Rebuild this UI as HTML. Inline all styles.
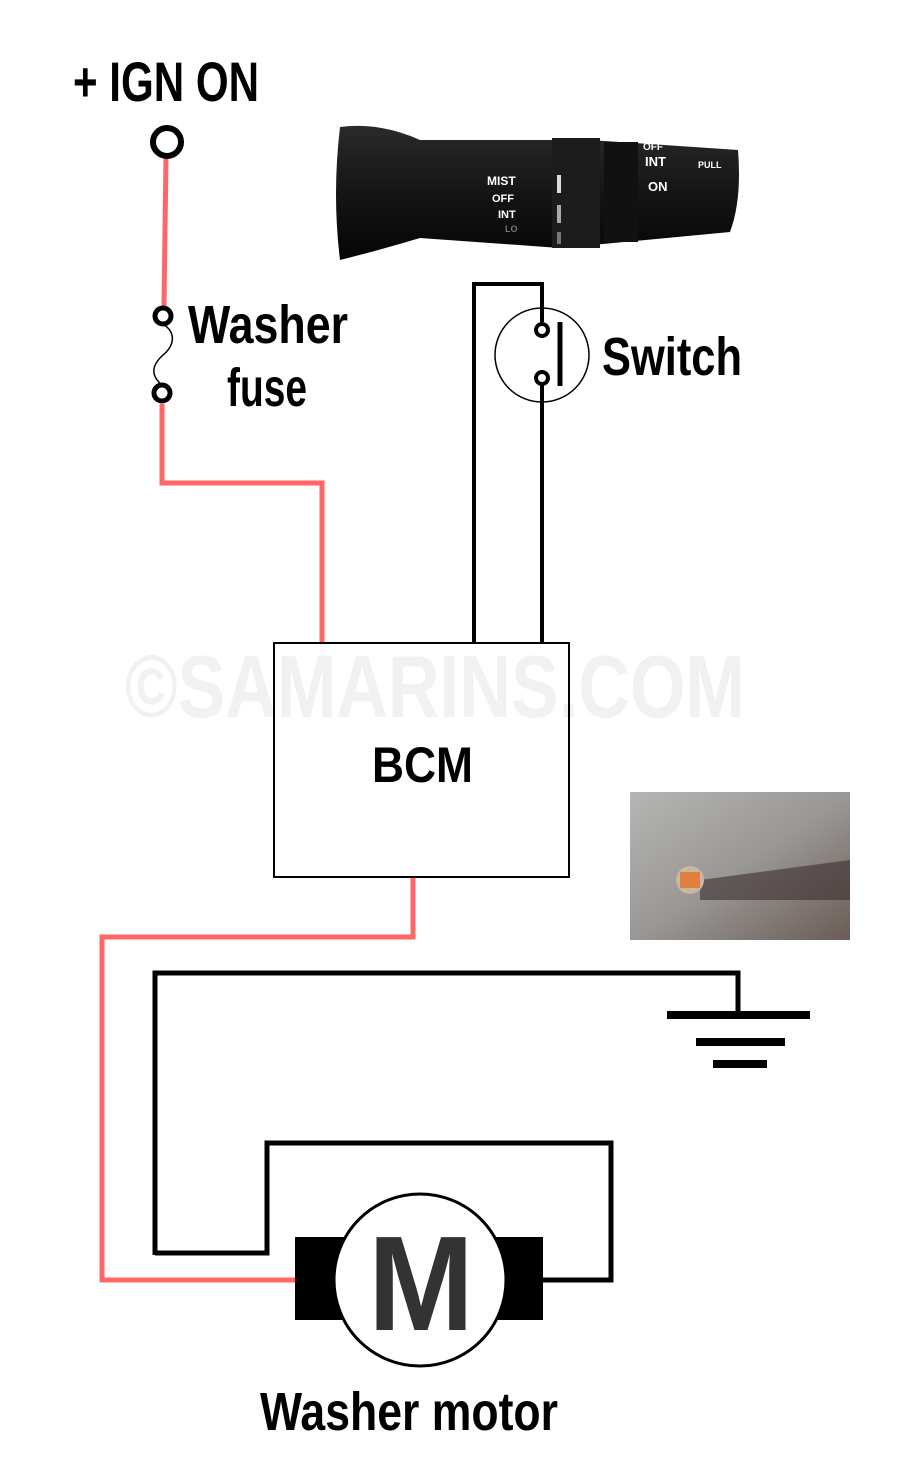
<!DOCTYPE html>
<html><head><style>
html,body{margin:0;padding:0;background:#fff;}
svg{display:block;}
text{font-family:"Liberation Sans",sans-serif;font-weight:bold;}
</style></head><body>
<svg width="900" height="1458" viewBox="0 0 900 1458" xmlns="http://www.w3.org/2000/svg">
<rect width="900" height="1458" fill="#fff"/>
<text x="125" y="717" font-size="88" fill="#f1f1f1" textLength="620" lengthAdjust="spacingAndGlyphs">©SAMARINS.COM</text>
<text x="73" y="101" font-size="56" fill="#000" textLength="186" lengthAdjust="spacingAndGlyphs">+ IGN ON</text>
<text x="188" y="343" font-size="54" fill="#000" textLength="160" lengthAdjust="spacingAndGlyphs">Washer</text>
<text x="227" y="406" font-size="54" fill="#000" textLength="80" lengthAdjust="spacingAndGlyphs">fuse</text>
<text x="602" y="375" font-size="54" fill="#000" textLength="140" lengthAdjust="spacingAndGlyphs">Switch</text>
<text x="372" y="782" font-size="50" fill="#000" textLength="101" lengthAdjust="spacingAndGlyphs">BCM</text>
<text x="260" y="1430" font-size="54" fill="#000" textLength="298" lengthAdjust="spacingAndGlyphs">Washer motor</text>
<g fill="none" stroke="#f66" stroke-width="5">
<path d="M166 156 L164 306"/>
<path d="M162 404 L162 483 L322 483 L322 643"/>
<path d="M413 877 L413 937 L102 937 L102 1280 L296 1280"/>
</g>
<circle cx="167" cy="142" r="14" fill="#fff" stroke="#000" stroke-width="6"/>
<circle cx="163" cy="316" r="8" fill="#fff" stroke="#000" stroke-width="5"/>
<circle cx="162" cy="393" r="8" fill="#fff" stroke="#000" stroke-width="5"/>
<path d="M163 324 C180 335 170 350 163 355 C152 365 150 375 162 385" fill="none" stroke="#000" stroke-width="1.5"/>
<g fill="none" stroke="#000" stroke-width="4">
<path d="M474 643 L474 284 L542 284 L542 322"/>
<path d="M542 384 L542 643"/>
</g>
<circle cx="542" cy="355" r="47" fill="none" stroke="#000" stroke-width="1.5"/>
<circle cx="542" cy="330" r="6" fill="#fff" stroke="#000" stroke-width="4"/>
<circle cx="542" cy="378" r="6" fill="#fff" stroke="#000" stroke-width="4"/>
<line x1="560" y1="322" x2="560" y2="386" stroke="#000" stroke-width="5"/>
<rect x="274" y="643" width="295" height="234" fill="none" stroke="#000" stroke-width="2"/>
<g fill="none" stroke="#000" stroke-width="5">
<path d="M155 1255 L155 973 L738 973 L738 1012"/>
<path d="M155 1253 L267 1253 L267 1143 L611 1143 L611 1280 L543 1280"/>
</g>
<rect x="667" y="1011" width="143" height="8" fill="#000"/>
<rect x="696" y="1038" width="89" height="8" fill="#000"/>
<rect x="713" y="1060" width="54" height="8" fill="#000"/>
<rect x="295" y="1237" width="50" height="83" fill="#000"/>
<rect x="495" y="1237" width="48" height="83" fill="#000"/>
<circle cx="420" cy="1280" r="86" fill="#fff" stroke="#000" stroke-width="3"/>
<text x="368" y="1330" font-size="135" fill="#333" textLength="106" lengthAdjust="spacingAndGlyphs">M</text>
<defs>
<linearGradient id="ph" x1="0" y1="0" x2="1" y2="1">
<stop offset="0" stop-color="#b5b5b3"/><stop offset="0.5" stop-color="#9a9896"/><stop offset="1" stop-color="#6a5c56"/>
</linearGradient>
<linearGradient id="st" x1="0" y1="0" x2="0" y2="1">
<stop offset="0" stop-color="#2a2a2a"/><stop offset="0.5" stop-color="#151515"/><stop offset="1" stop-color="#050505"/>
</linearGradient>
</defs>
<rect x="630" y="792" width="220" height="148" fill="url(#ph)"/>
<path d="M700 880 L850 860 L850 900 L700 900 Z" fill="#3a2e2e" opacity="0.6"/>
<circle cx="690" cy="880" r="14" fill="#c8b8a0"/>
<rect x="680" y="872" width="20" height="16" fill="#e08040"/>
<path d="M340 127 Q380 122 420 140 L560 140 L560 138 L738 150 Q742 200 730 232 L560 248 L420 238 Q380 250 340 260 Q332 195 340 127 Z" fill="url(#st)"/>
<rect x="552" y="138" width="48" height="110" fill="#1c1c1c"/>
<rect x="604" y="142" width="34" height="100" fill="#111"/>
<g fill="#fff" font-size="12">
<text x="487" y="185">MIST</text>
<text x="492" y="202" font-size="11">OFF</text>
<text x="498" y="218" font-size="11">INT</text>
<text x="505" y="232" font-size="9" fill="#777">LO</text>
<text x="643" y="150" font-size="10">OFF</text>
<text x="645" y="166" font-size="13">INT</text>
<text x="648" y="191" font-size="13">ON</text>
<text x="698" y="168" font-size="9">PULL</text>
</g>
<rect x="557" y="175" width="4" height="18" fill="#ddd"/>
<rect x="557" y="205" width="4" height="18" fill="#aaa"/>
<rect x="557" y="232" width="4" height="12" fill="#777"/>
</svg>
</body></html>
